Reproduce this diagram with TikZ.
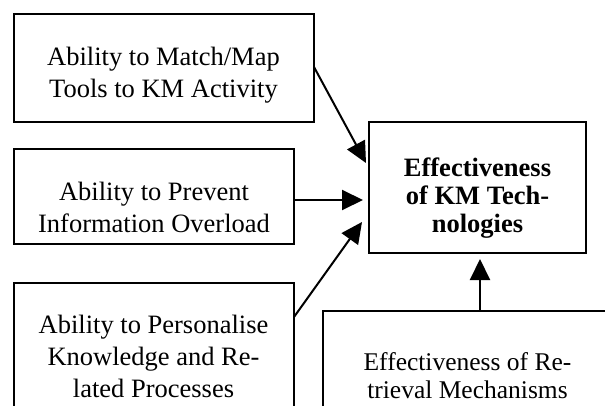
\documentclass[tikz,border=0pt]{standalone}
\usepackage{fontspec}
\setmainfont{Liberation Serif}
\usetikzlibrary{arrows.meta,calc}
\tikzset{
  box/.style={draw=black, line width=2.2pt, rectangle, inner sep=0pt, outer sep=0pt},
  txt/.style={font=\fontsize{26.5}{32}\selectfont, align=center, inner sep=0pt},
  txtb/.style={font=\fontsize{26.5}{28}\selectfont\bfseries, align=center, inner sep=0pt},
  txts/.style={font=\fontsize{25.5}{28}\selectfont, align=center, inner sep=0pt},
  arr/.style={line width=2pt, -{Triangle[length=21pt,width=20pt]}}
}
\begin{document}
\begin{tikzpicture}[x=1pt,y=-1pt]
\useasboundingbox (0,0) rectangle (605,406);
\clip (0,0) rectangle (605,406);
\fill[white] (0,0) rectangle (605,406);
% boxes
\node[box, minimum width=300pt, minimum height=108pt] (b1) at (164,68) {};
\node[box, minimum width=280pt, minimum height=95pt] (b2) at (154,196.5) {};
\node[box, minimum width=280pt, minimum height=146pt] (b3) at (154,356) {};
\node[box, minimum width=217pt, minimum height=131pt] (kmt) at (477.5,187.5) {};
\node[box, minimum width=289pt, minimum height=129pt] (bot) at (467.5,375.5) {};
% texts
\node[txt] (t1) at (163.5,74.9) {Ability to Match/Map\\Tools to KM Activity};
\node[txt] (t2) at (154,207) {Ability to Prevent\\Information Overload};
\node[txt] (t3) at (153.5,356) {Ability to Personalise\\Knowledge and Re-\\lated Processes};
\node[txtb] (t4) at (477.5,197.6) {Effectiveness\\of KM Tech-\\nologies};
\node[txts] (t5) at (467.5,375.3) {Effectiveness of Re-\\trieval Mechanisms};
% connectors
\draw[arr] ($(b1.east)+(0,-1)$) -- ($(kmt.west)+(-3,-24.5)$);
\draw[arr] ($(b2.east)+(0,3.5)$) -- ($(kmt.west)+(-6,12.5)$);
\draw[arr] ($(b3.east)+(0,-39)$) -- ($(kmt.west)+(-7,34.5)$);
\draw[arr] ($(bot.north)+(12.5,0)$) -- ($(kmt.south)+(2.5,6)$);
\end{tikzpicture}
\end{document}
